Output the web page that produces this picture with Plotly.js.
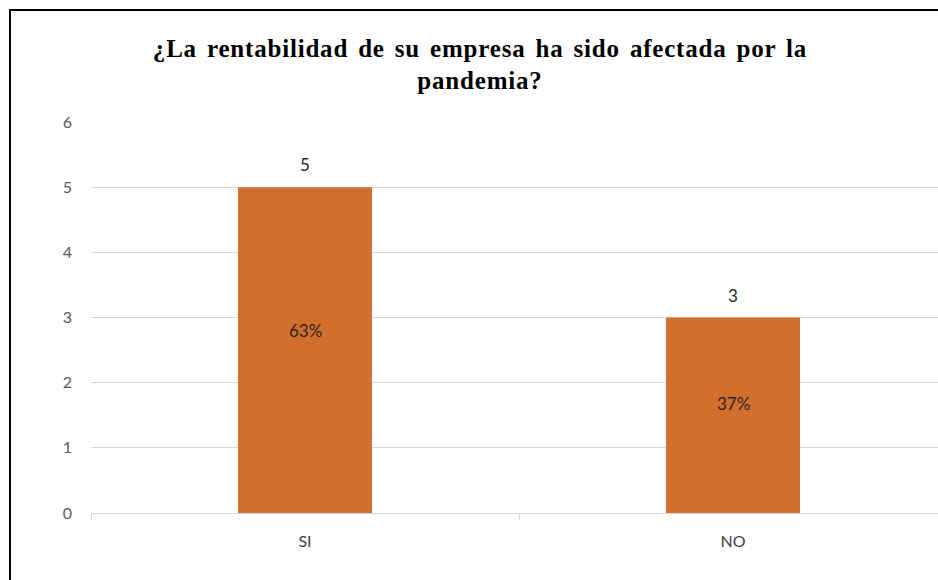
<!DOCTYPE html>
<html>
<head>
<meta charset="utf-8">
<script src="https://cdn.plot.ly/plotly-3.0.1.min.js"></script>
<style>
  html, body { margin: 0; padding: 0; width: 938px; height: 580px; overflow: hidden; background: #fff; }
  #chart { position: absolute; left: 0; top: 0; width: 960px; height: 580px; }
  #frame { position: absolute; left: 9px; top: 9px; width: 960px; height: 600px; border-top: 2px solid #000; border-left: 2px solid #000; pointer-events: none; }
  .gtitle { letter-spacing: 0.8px; word-spacing: 3px; }
</style>
</head>
<body>
<div id="chart"></div>
<div id="frame"></div>
<script>
const categories = ["SI", "NO"];
const values = [5, 3];
const percentLabels = ["63%", "37%"];
const yTicks = [0, 1, 2, 3, 4, 5, 6];

const labelFont = { family: "Lato, 'Open Sans', sans-serif", size: 17, color: "#262626" };

const trace = {
  type: "bar",
  x: categories,
  y: values,
  width: 0.313,
  marker: { color: "#D46E2C", line: { width: 0 } },
  hoverinfo: "none"
};

const valueAnnotations = categories.map((c, i) => ({
  x: c, y: values[i], xref: "x", yref: "y",
  text: String(values[i]), showarrow: false,
  yanchor: "bottom", yshift: 10,
  font: labelFont
}));

const percentAnnotations = categories.map((c, i) => ({
  x: c, y: values[i] * 0.56, xref: "x", yref: "y",
  text: percentLabels[i], showarrow: false,
  font: labelFont
}));

const layout = {
  width: 960, height: 580,
  margin: { l: 91, r: 13, t: 122, b: 67 },
  paper_bgcolor: "#fff", plot_bgcolor: "#fff",
  showlegend: false,
  title: {
    text: "<b>¿La rentabilidad de su empresa ha sido afectada por la<br>pandemia?</b>",
    font: { family: "'Liberation Serif', 'Times New Roman', serif", size: 25, color: "#000" },
    x: 0.5, xanchor: "center", y: 0.902, yanchor: "top"
  },
  xaxis: {
    type: "category",
    showgrid: false, zeroline: false,
    showline: true, linecolor: "#d9d9d9", linewidth: 1,
    ticks: "outside", tickson: "boundaries", ticklen: 6, tickcolor: "#d9d9d9",
    ticklabelstandoff: 14,
    tickfont: { family: "Lato, 'Open Sans', sans-serif", size: 16, color: "#404040" }
  },
  yaxis: {
    range: [0, 6], tickvals: yTicks, ticktext: yTicks.map(String),
    showgrid: true, gridcolor: "#d9d9d9", gridwidth: 1,
    zeroline: false, showline: false, ticks: "",
    ticklabelstandoff: 18,
    tickfont: { family: "Lato, 'Open Sans', sans-serif", size: 16, color: "#595959" }
  },
  annotations: valueAnnotations.concat(percentAnnotations)
};

Plotly.newPlot("chart", [trace], layout, { displayModeBar: false, staticPlot: true });
</script>
</body>
</html>
